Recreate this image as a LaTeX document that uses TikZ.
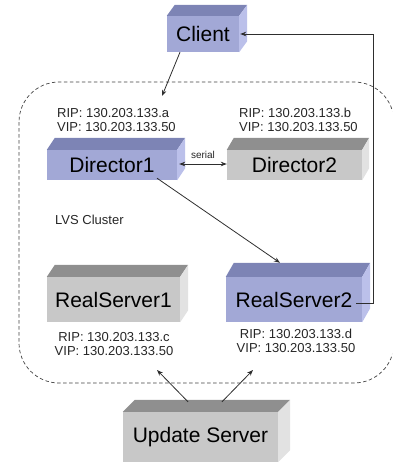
\documentclass[tikz,border=0pt]{standalone}
\usepackage{fontspec}
\setmainfont{Liberation Sans}
\usetikzlibrary{calc,arrows.meta}
\definecolor{bfront}{HTML}{A2A8D6}
\definecolor{btop}{HTML}{7D84B5}
\definecolor{bside}{HTML}{BBC0EA}
\definecolor{gfront}{HTML}{C8C8C8}
\definecolor{gtop}{HTML}{8F8F8F}
\definecolor{gside}{HTML}{E2E2E2}
\definecolor{lin}{HTML}{2E2E2E}
\newcommand\cubefaces[5]{%
 \fill[#4] (#1.north west) -- ++(#2,-#3) -- ($(#1.north east)+(#2,-#3)$) -- (#1.north east) -- cycle;
 \fill[#5] (#1.north east) -- ++(#2,-#3) -- ($(#1.south east)+(#2,-#3)$) -- (#1.south east) -- cycle;
}
\tikzset{
  cubebox/.style={inner sep=0pt, text=black, font=\fontsize{21}{25}\selectfont},
  bluebox/.style={cubebox, fill=bfront},
  graybox/.style={cubebox, fill=gfront},
  iplabel/.style={inner sep=0pt, text=black!85, font=\fontsize{13}{14.5}\selectfont},
  conn/.style={draw=lin, line width=0.8pt, -{Stealth[length=6pt,width=4.5pt]}},
  cluster/.style={draw=black!75, line width=0.7pt, dash pattern=on 3.5pt off 2.5pt, rounded corners=40pt}
}
\begin{document}
\begin{tikzpicture}[x=1pt,y=-1pt]
\useasboundingbox (0,0) rectangle (392,463);
\begin{scope}
\clip (0,0) rectangle (392,463);
\draw[cluster] (19,82) rectangle (394,383);
\end{scope}

% boxes
\node[bluebox, minimum width=72pt, minimum height=36pt] (client) at (203,34) {Client};
\cubefaces{client}{8}{11}{btop}{bside}
\node[bluebox, minimum width=130pt, minimum height=30pt] (d1) at (112,165) {Director1};
\cubefaces{d1}{8}{12}{btop}{bside}
\node[graybox, minimum width=135pt, minimum height=30pt] (d2) at (294.5,165) {Director2};
\cubefaces{d2}{7}{12}{gtop}{gside}
\node[graybox, minimum width=133pt, minimum height=45pt] (rs1) at (113.5,299.5) {RealServer1};
\cubefaces{rs1}{8}{12}{gtop}{gside}
\node[bluebox, minimum width=136pt, minimum height=45pt] (rs2) at (294,299.5) {RealServer2};
\cubefaces{rs2}{8}{14}{btop}{bside}
\node[graybox, minimum width=155pt, minimum height=50pt] (upd) at (200.5,437) {Update Server};
\cubefaces{upd}{12}{12}{gtop}{gside}

% labels
\node[iplabel, align=left, anchor=west] (d1ip) at (57,120) {RIP: 130.203.133.a\\VIP: 130.203.133.50};
\node[iplabel, align=left, anchor=west] (d2ip) at (239,120) {RIP: 130.203.133.b\\VIP: 130.203.133.50};
\node[iplabel, anchor=west] (lvs) at (55,220) {LVS Cluster};
\node[iplabel, align=center] (rs1ip) at (114,344) {RIP: 130.203.133.c\\VIP: 130.203.133.50};
\node[iplabel, align=center] (rs2ip) at (296,341) {RIP: 130.203.133.d\\VIP: 130.203.133.50};
\node[inner sep=0pt, text=black!85, font=\fontsize{10}{12}\selectfont] (serial) at (203,155) {serial};

% free ends
\coordinate (cin) at (162,96);
\coordinate (u1) at (157,370);
\coordinate (u2) at (253,370);

% connectors
\draw[conn] ([xshift=-23pt]client.south) -- (cin);
\draw[conn] ([yshift=-3.5pt,xshift=-6pt]rs2.east) -- ++(17,0) |- ([xshift=1pt]client.east);
\draw[draw=lin, line width=0.8pt, {Stealth[length=6pt,width=4.5pt]}-{Stealth[length=6pt,width=4.5pt]}] ([xshift=2pt,yshift=1pt]d1.east) -- ([yshift=1pt]d2.west);
\draw[conn] ([xshift=45pt,yshift=2pt]d1.south) -- ([xshift=-14pt,yshift=14pt]rs2.north);
\draw[conn] ([xshift=-12.5pt,yshift=10pt]upd.north) -- (u1);
\draw[conn] ([xshift=21.5pt,yshift=10pt]upd.north) -- (u2);
\end{tikzpicture}
\end{document}
